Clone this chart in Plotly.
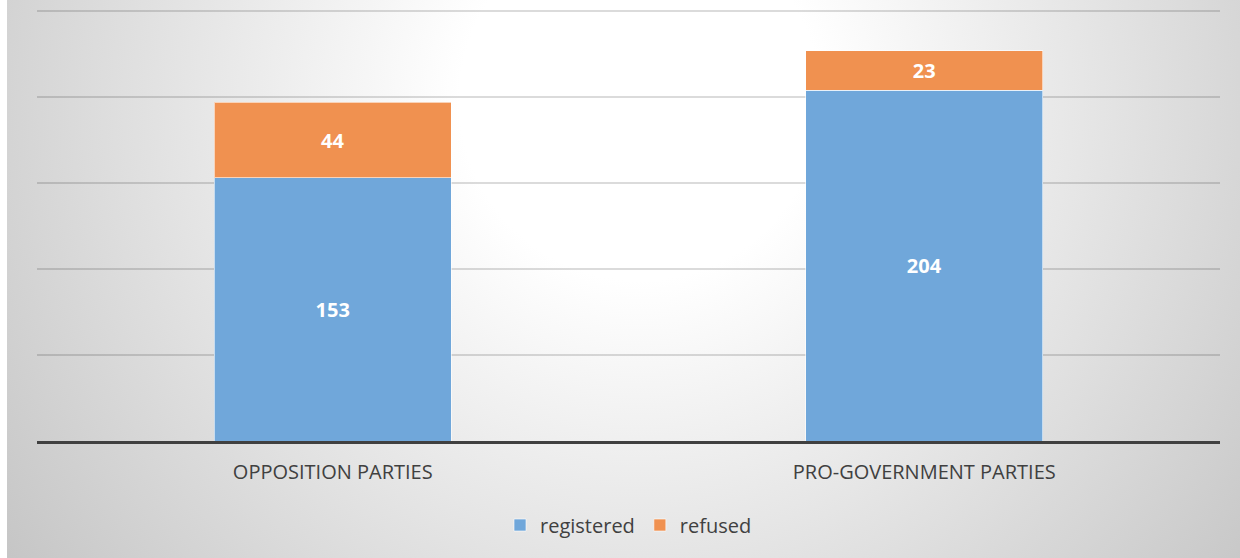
import base64
import plotly.graph_objects as go

categories = ["OPPOSITION PARTIES", "PRO-GOVERNMENT PARTIES"]
registered = [153, 204]
refused = [44, 23]
series_names = ["registered", "refused"]
y_ticks = [0, 50, 100, 150, 200, 250]

W, H = 1240, 558
L, R, T, B = 37, 20, 6, 117

svg = f'''<svg xmlns="http://www.w3.org/2000/svg" width="{W-7}" height="{H}" viewBox="0 0 {W-7} {H}">
<defs><radialGradient id="g" cx="633" cy="100" r="820" gradientUnits="userSpaceOnUse">
<stop offset="0" stop-color="#ffffff"/><stop offset="0.22" stop-color="#ffffff"/>
<stop offset="1" stop-color="#c2c2c2"/></radialGradient></defs>
<rect x="0" y="0" width="{W-7}" height="{H}" fill="url(#g)"/></svg>'''
src = "data:image/svg+xml;base64," + base64.b64encode(svg.encode()).decode()

pw = W - L - R
ph = H - T - B
ymax = 250 * ph / 430.0

label_font = dict(color="white", size=20, family="Open Sans", weight="bold")

fig = go.Figure()
fig.add_trace(go.Bar(
    x=categories, y=registered, name=series_names[0],
    marker=dict(color="#70A7DA", line=dict(color="rgba(255,255,255,0.6)", width=1)),
    text=registered, textposition="inside", insidetextanchor="middle",
    textfont=label_font,
))
fig.add_trace(go.Bar(
    x=categories, y=refused, name=series_names[1],
    marker=dict(color="#F09150", line=dict(color="rgba(255,255,255,0.6)", width=1)),
    text=refused, textposition="inside", insidetextanchor="middle",
    textfont=label_font,
))

fig.add_layout_image(dict(
    source=src, xref="paper", yref="paper",
    x=(7 - L) / pw, y=(H - B) / ph, sizex=(W - 7) / pw, sizey=H / ph,
    xanchor="left", yanchor="top", sizing="stretch", layer="below",
))

fig.update_layout(
    width=W, height=H,
    margin=dict(l=L, r=R, t=T, b=B),
    barmode="stack", bargap=0.6,
    paper_bgcolor="white", plot_bgcolor="rgba(0,0,0,0)",
    font=dict(family="Open Sans", color="#404040"),
    showlegend=True,
    legend=dict(orientation="h", x=0.5, xanchor="center", y=-84 / ph, yanchor="middle",
                font=dict(size=20, color="#404040"), bgcolor="rgba(0,0,0,0)",
                traceorder="normal"),
    xaxis=dict(showgrid=False, showline=True, linecolor="#404040", linewidth=3,
               tickfont=dict(size=20, color="#404040"), ticks="", ticklabelstandoff=11),
    yaxis=dict(range=[0, ymax], tickvals=y_ticks, showticklabels=False,
               showgrid=True, gridcolor="rgba(0,0,0,0.14)", gridwidth=2,
               zeroline=False, showline=False),
)

fig.write_html("out.html", config={"displayModeBar": False},
               post_script="document.body.style.margin='0';document.body.style.padding='0';")
